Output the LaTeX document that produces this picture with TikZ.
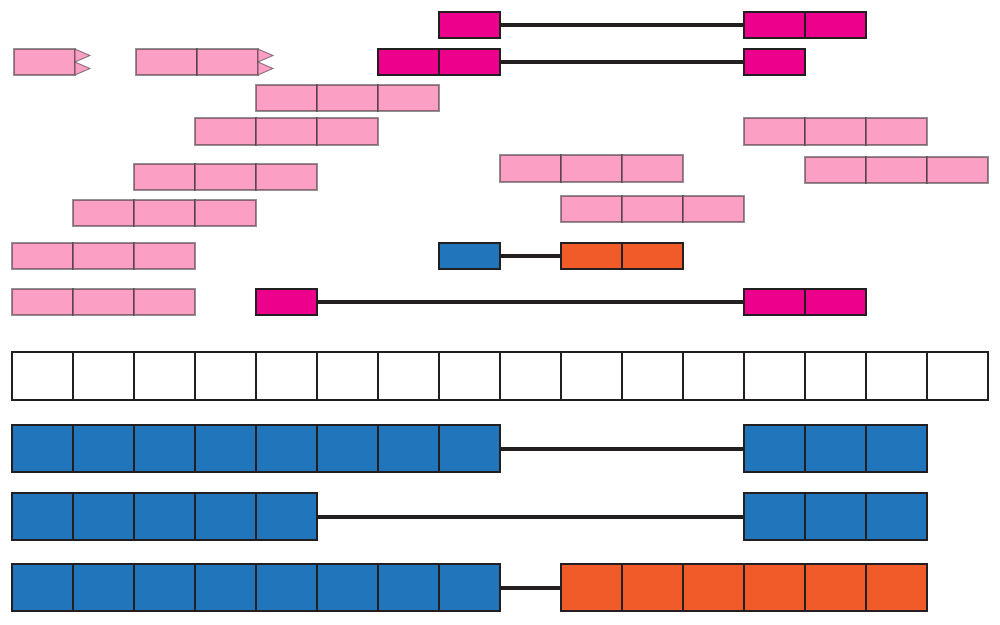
\documentclass[tikz,border=0pt]{standalone}
\usepackage{xcolor}
\usepackage{tikz}
\usetikzlibrary{positioning,calc}

\definecolor{pinkfill}{RGB}{252,159,196}
\definecolor{magentafill}{RGB}{236,0,140}
\definecolor{bluefill}{RGB}{33,117,187}
\definecolor{orangefill}{RGB}{241,90,41}
\definecolor{darkline}{RGB}{35,31,32}

\begin{document}
\begin{tikzpicture}[x=1pt,y=-1pt,
  cell/.style={anchor=north west,inner sep=0pt,outer sep=0pt,minimum width=61pt},
  pinkcell/.style={cell,fill=pinkfill,draw=black!85,draw opacity=.5,line width=2pt},
  magcell/.style={cell,fill=magentafill,draw=darkline,line width=2.4pt},
  bluecell/.style={cell,fill=bluefill,draw=darkline,line width=2.4pt},
  orangecell/.style={cell,fill=orangefill,draw=darkline,line width=2.4pt},
  emptycell/.style={cell,fill=white,draw=darkline,line width=2.4pt},
  tip/.style={fill=pinkfill,draw=black!85,draw opacity=.5,line width=1pt,line join=miter},
  link/.style={draw=darkline,line width=4pt}]

    \useasboundingbox (0,0) rectangle (1000,624);

    % name / style / first column / cells / top / height
    \foreach \nm/\st/\c/\n/\y/\h in {
        pc/pinkcell/4/3/85/26, pd/pinkcell/3/3/118/27,
        pe/pinkcell/12/3/118/27, pf/pinkcell/8/3/155/27,
        pg/pinkcell/13/3/157/26, ph/pinkcell/2/3/164/26,
        pi/pinkcell/9/3/196/26, pj/pinkcell/1/3/200/26,
        pk/pinkcell/0/3/243/26, pl/pinkcell/0/3/289/26,
        ma/magcell/7/1/12/26, mb/magcell/12/2/12/26,
        mc/magcell/6/2/49/26, md/magcell/12/1/49/26,
        me/magcell/4/1/289/26, mf/magcell/12/2/289/26,
        sa/bluecell/7/1/243/26, sb/orangecell/9/2/243/26,
        grid/emptycell/0/16/352/48,
        ba/bluecell/0/8/425/47, bb/bluecell/12/3/425/47,
        bc/bluecell/0/5/493/47, bd/bluecell/12/3/493/47,
        be/bluecell/0/8/564/47, bf/orangecell/9/6/564/47}
    {
        \foreach \i in {1,...,\n}
            \node[\st,minimum height=\h pt] (\nm-\i) at ({12+61*(\c+\i-1)},\y) {};
    }

    % blocks with split ends, a little off the grid
    \node[pinkcell,minimum height=26pt] (pa-1) at (14,49) {};
    \node[pinkcell,minimum height=26pt] (pb-1) at (136,49) {};
    \node[pinkcell,minimum height=26pt,right=0pt of pb-1] (pb-2) {};
    \foreach \e in {pa-1,pb-2} {
        \draw[tip] (\e.north east) -- ++(15,6.5) -- ++(-15,6.5) -- cycle;
        \draw[tip] (\e.east) -- ++(15,6.5) -- ++(-15,6.5) -- cycle;
    }

    \draw[link] (ma-1.east) -- (mb-1.west);
    \draw[link] (mc-2.east) -- (md-1.west);
    \draw[link] (me-1.east) -- (mf-1.west);
    \draw[link] (sa-1.east) -- (sb-1.west);
    \draw[link] (ba-8.east) -- (bb-1.west);
    \draw[link] (bc-5.east) -- (bd-1.west);
    \draw[link] (be-8.east) -- (bf-1.west);
\end{tikzpicture}
\end{document}
